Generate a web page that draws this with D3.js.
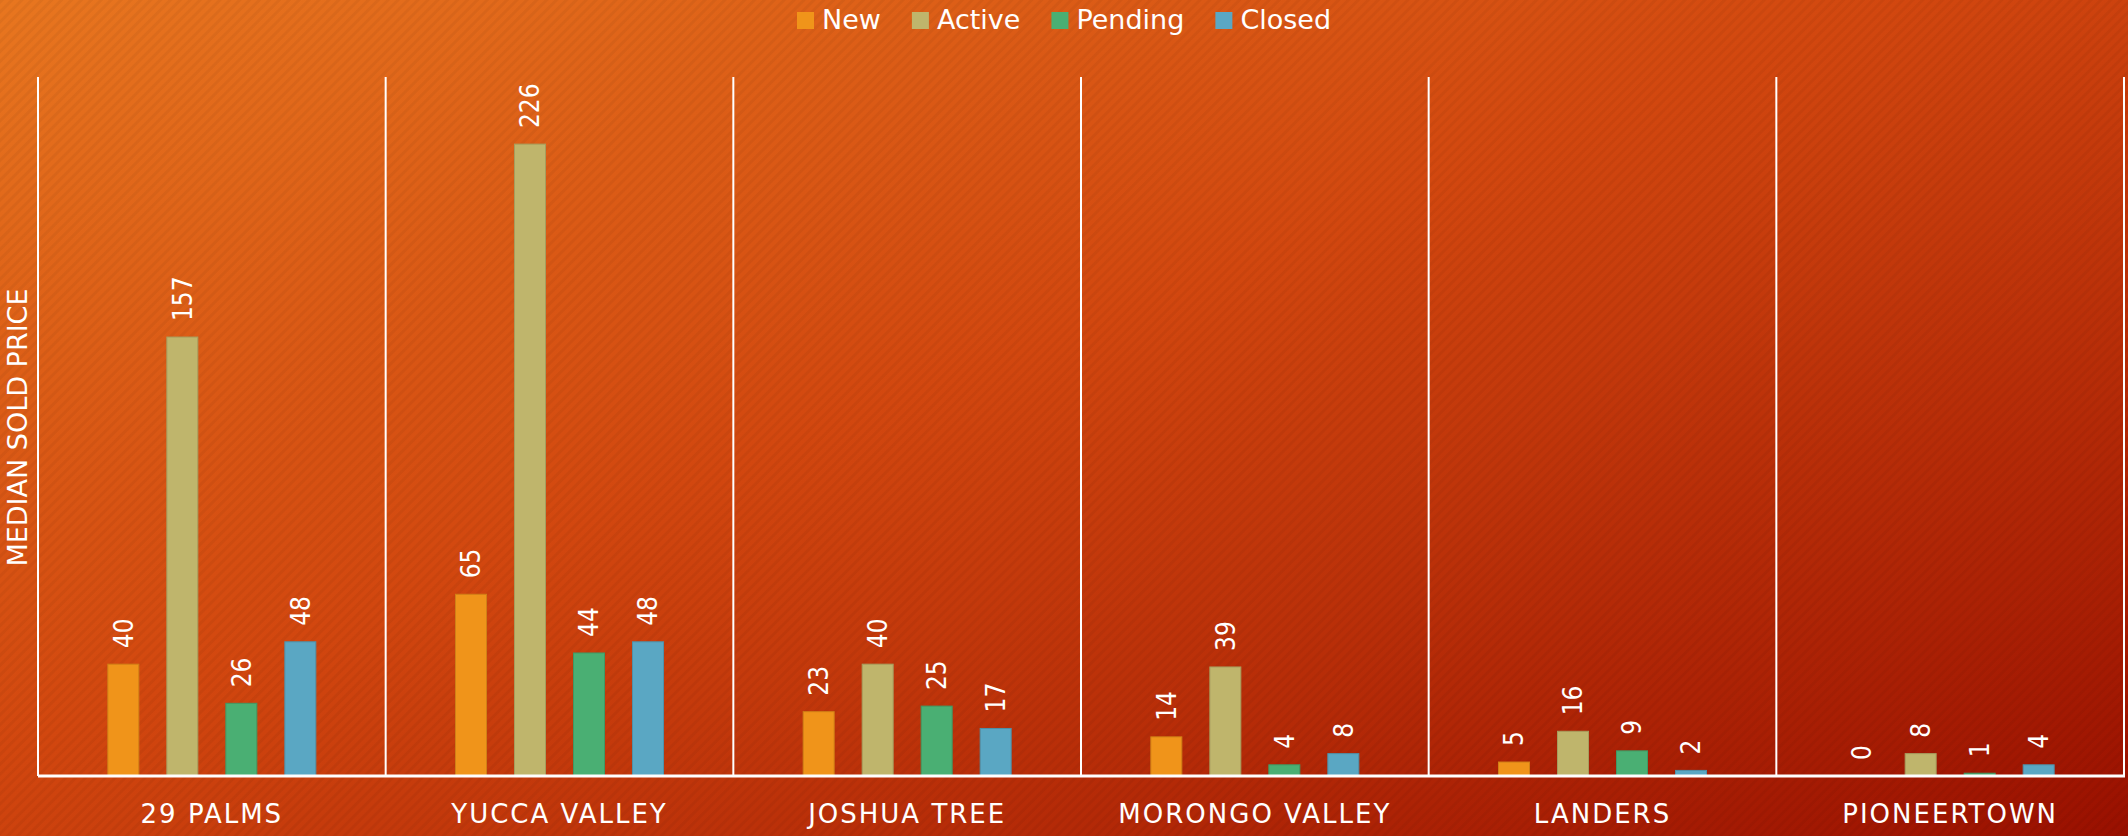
<!DOCTYPE html>
<html>
<head>
<meta charset="utf-8">
<script src="https://cdn.jsdelivr.net/npm/d3@7"></script>
<style>
  html, body { margin: 0; padding: 0; background: #c83a0c; }
  svg { display: block; }
</style>
</head>
<body>
<div id="chart"></div>
<script>
const categories = ["29 PALMS", "YUCCA VALLEY", "JOSHUA TREE", "MORONGO VALLEY", "LANDERS", "PIONEERTOWN"];
const seriesNames = ["New", "Active", "Pending", "Closed"];
const newValues     = [40, 65, 23, 14, 5, 0];
const activeValues  = [157, 226, 40, 39, 16, 8];
const pendingValues = [26, 44, 25, 4, 9, 1];
const closedValues  = [48, 48, 17, 8, 2, 4];
const seriesColors  = ["#F0941A", "#BFB56C", "#4AAF73", "#5AA7C3"];
const yAxisTitle = "MEDIAN SOLD PRICE";
const yDomain = [0, 250];

const seriesValues = [newValues, activeValues, pendingValues, closedValues];
const data = categories.map((c, i) => ({
  category: c,
  values: seriesNames.map((s, j) => ({ series: s, value: seriesValues[j][i], color: seriesColors[j] }))
}));

const W = 2128, H = 836;
const mLeft = 38, mRight = 2124, mTop = 77, mBottom = 776;

const svg = d3.select("#chart").append("svg").attr("width", W).attr("height", H);
const defs = svg.append("defs");
const grad = defs.append("linearGradient").attr("id", "bg")
  .attr("x1", 0).attr("y1", 0).attr("x2", 1).attr("y2", 1);
grad.append("stop").attr("offset", "0%").attr("stop-color", "#E8761F");
grad.append("stop").attr("offset", "45%").attr("stop-color", "#D2470F");
grad.append("stop").attr("offset", "100%").attr("stop-color", "#9A1000");
const pat = defs.append("pattern").attr("id", "stripes")
  .attr("patternUnits", "userSpaceOnUse").attr("width", 7).attr("height", 7)
  .attr("patternTransform", "rotate(45)");
pat.append("rect").attr("x", 0).attr("y", 0).attr("width", 3).attr("height", 7)
  .attr("fill", "#000").attr("opacity", 0.045);

svg.append("rect").attr("width", W).attr("height", H).attr("fill", "url(#bg)");
svg.append("rect").attr("width", W).attr("height", H).attr("fill", "url(#stripes)");

const x0 = d3.scaleBand().domain(categories).range([mLeft, mRight]).padding(0);
const pi = 28 / 59;
const po = (x0.bandwidth() / 59 - (4 - pi)) / 2;
const x1 = d3.scaleBand().domain(seriesNames).range([0, x0.bandwidth()]).paddingInner(pi).paddingOuter(po);
const y = d3.scaleLinear().domain(yDomain).range([mBottom, mTop]);

// separators
const seps = categories.map(c => x0(c)).concat([mRight]);
svg.append("g").selectAll("line").data(seps).join("line")
  .attr("x1", d => d).attr("x2", d => d)
  .attr("y1", mTop).attr("y2", mBottom)
  .attr("stroke", "#fff").attr("stroke-width", 2);

// bars
const groups = svg.append("g").selectAll("g").data(data).join("g")
  .attr("transform", d => `translate(${x0(d.category)},0)`);
groups.selectAll("rect").data(d => d.values).join("rect")
  .attr("x", d => x1(d.series))
  .attr("width", x1.bandwidth())
  .attr("y", d => y(d.value))
  .attr("height", d => mBottom - y(d.value))
  .attr("fill", d => d.color)
  .attr("stroke", d => d3.color(d.color).darker(0.4))
  .attr("stroke-width", d => d.value > 0 ? 1 : 0);

// value labels
groups.selectAll("text").data(d => d.values).join("text")
  .attr("transform", d => `translate(${x1(d.series) + x1.bandwidth() / 2},${y(d.value) - 16}) rotate(-90)`)
  .attr("dy", "0.36em")
  .attr("text-anchor", "start")
  .attr("fill", "#fff")
  .attr("font-family", "'DejaVu Sans Condensed', 'DejaVu Sans', sans-serif")
  .attr("font-stretch", "condensed")
  .attr("font-size", 26)
  .text(d => d.value);

// baseline
svg.append("line").attr("x1", mLeft).attr("x2", mRight + 1).attr("y1", mBottom).attr("y2", mBottom)
  .attr("stroke", "#fff").attr("stroke-width", 3);

// category labels
const xAxis = d3.axisBottom(x0).tickSize(0).tickPadding(0);
const gx = svg.append("g").attr("transform", `translate(0,${mBottom})`).call(xAxis);
gx.select(".domain").remove();
gx.selectAll("text")
  .attr("y", 47).attr("dy", 0)
  .attr("fill", "#fff")
  .attr("font-family", "'DejaVu Sans', sans-serif")
  .attr("font-size", 26)
  .attr("letter-spacing", 2);

// y axis title
svg.append("text")
  .attr("transform", `translate(27,${(mTop + mBottom) / 2 + 1}) rotate(-90)`)
  .attr("text-anchor", "middle")
  .attr("fill", "#fff")
  .attr("font-family", "'DejaVu Sans', sans-serif")
  .attr("font-size", 27)
  .text(yAxisTitle);

// legend
const legend = svg.append("g");
const items = legend.selectAll("g").data(seriesNames).join("g");
items.append("rect").attr("width", 17).attr("height", 17).attr("y", 12)
  .attr("fill", (d, i) => seriesColors[i]);
items.append("text").attr("x", 25).attr("y", 29)
  .attr("fill", "#fff")
  .attr("font-family", "'DejaVu Sans', sans-serif")
  .attr("font-size", 27)
  .text(d => d);
let cx = 0;
items.each(function () {
  const g = d3.select(this);
  const w = 25 + g.select("text").node().getComputedTextLength();
  g.attr("transform", `translate(${cx},0)`);
  cx += w + 31;
});
const total = cx - 31;
legend.attr("transform", `translate(${Math.round(W / 2 - total / 2)},0)`);
</script>
</body>
</html>
